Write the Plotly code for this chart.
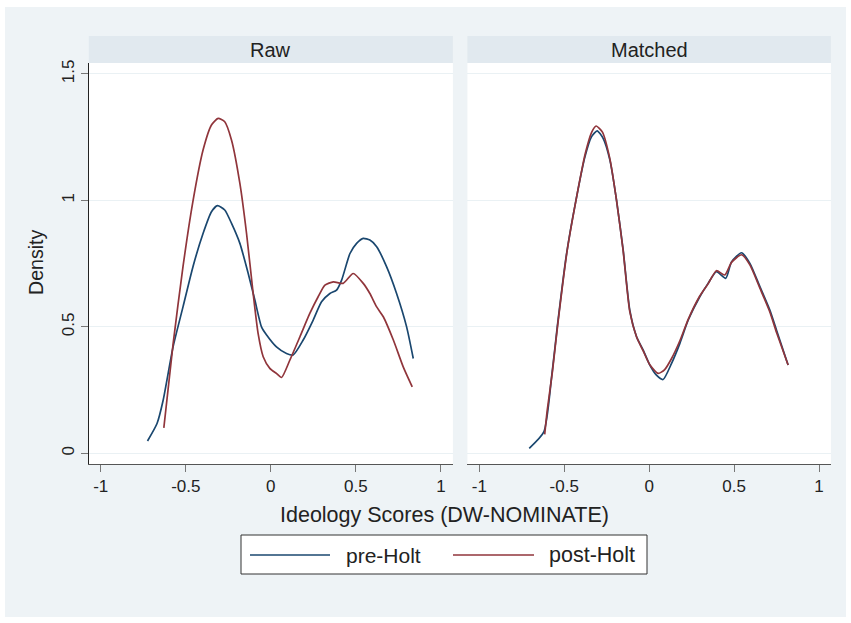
import plotly.graph_objects as go

# ---- data ----
panel_titles = ["Raw", "Matched"]
series_names = ["pre-Holt", "post-Holt"]

pre_raw_x = [-0.725, -0.669, -0.633, -0.575, -0.516, -0.457, -0.398, -0.349, -0.314, -0.271,
             -0.231, -0.182, -0.133, -0.094, -0.055, -0.025, 0.033, 0.092, 0.131, 0.19,
             0.249, 0.298, 0.347, 0.386, 0.416, 0.465, 0.504, 0.543, 0.582, 0.622,
             0.68, 0.739, 0.798, 0.837]
pre_raw_y = [0.049, 0.118, 0.21, 0.42, 0.58, 0.74, 0.87, 0.955, 0.979, 0.962,
             0.909, 0.83, 0.711, 0.606, 0.50, 0.468, 0.421, 0.395, 0.389, 0.448,
             0.527, 0.599, 0.632, 0.645, 0.685, 0.79, 0.83, 0.85, 0.843, 0.817,
             0.738, 0.632, 0.50, 0.375]

post_raw_x = [-0.629, -0.575, -0.516, -0.457, -0.398, -0.349, -0.31, -0.271, -0.231, -0.182,
              -0.143, -0.104, -0.075, -0.045, -0.006, 0.033, 0.063, 0.112, 0.171, 0.229,
              0.278, 0.318, 0.367, 0.425, 0.484, 0.543, 0.582, 0.622, 0.661, 0.72,
              0.778, 0.831]
post_raw_y = [0.101, 0.43, 0.74, 1.0, 1.2, 1.298, 1.324, 1.311, 1.238, 1.067,
              0.87, 0.632, 0.474, 0.382, 0.336, 0.316, 0.300, 0.369, 0.461, 0.553,
              0.619, 0.665, 0.678, 0.672, 0.711, 0.672, 0.632, 0.579, 0.54, 0.448,
              0.342, 0.263]

pre_match_x = [-0.706, -0.62, -0.574, -0.541, -0.486, -0.431, -0.378, -0.339, -0.306, -0.271,
               -0.231, -0.192, -0.153, -0.114, -0.074, -0.035, 0.004, 0.043, 0.082, 0.132,
               0.181, 0.23, 0.298, 0.347, 0.396, 0.451, 0.485, 0.544, 0.593, 0.652,
               0.71, 0.75, 0.818]
pre_match_y = [0.02, 0.085, 0.303, 0.5, 0.79, 1.0, 1.172, 1.252, 1.275, 1.245,
               1.159, 1.0, 0.804, 0.566, 0.461, 0.408, 0.349, 0.309, 0.292, 0.356,
               0.435, 0.527, 0.619, 0.672, 0.718, 0.692, 0.757, 0.793, 0.751, 0.659,
               0.567, 0.487, 0.349]

post_match_x = [-0.615, -0.60, -0.570, -0.538, -0.483, -0.428, -0.376, -0.338, -0.312, -0.275,
                -0.233, -0.192, -0.153, -0.114, -0.074, -0.035, 0.004, 0.053, 0.09, 0.132,
                0.181, 0.23, 0.298, 0.347, 0.396, 0.445, 0.485, 0.544, 0.593, 0.652,
                0.71, 0.75, 0.818]
post_match_y = [0.075, 0.17, 0.32, 0.51, 0.80, 1.01, 1.185, 1.27, 1.294, 1.27,
                1.17, 1.0, 0.80, 0.56, 0.46, 0.405, 0.35, 0.316, 0.33, 0.375,
                0.445, 0.53, 0.622, 0.67, 0.722, 0.705, 0.755, 0.785, 0.745, 0.653,
                0.56, 0.478, 0.349]

x_ticks = [-1, -0.5, 0, 0.5, 1]
x_ticklabels = ["-1", "-0.5", "0", "0.5", "1"]
y_ticks = [0, 0.5, 1, 1.5]
y_ticklabels = ["0", "0.5", "1", "1.5"]

# ---- style ----
W, H = 851, 623
NAVY = "#1a476f"
MAROON = "#90353b"
BG = "#eef3f6"
STRIP = "#e1e9ef"
GRID = "#eaf1f4"
FONT = "Liberation Sans, Arial, sans-serif"
TXT = "#222222"

def px(x):
    return x / W

def py(y):
    return 1 - y / H

xl_dom = [px(88.8), px(452.9)]
xr_dom = [px(467.4), px(830.9)]
y_dom = [py(464), py(63)]
xrange_ = [-1.07, 1.07]
yrange_ = [-0.042, 1.543]

fig = go.Figure()
lw = 1.7
fig.add_trace(go.Scatter(x=pre_raw_x, y=pre_raw_y, mode="lines", name=series_names[0],
                         line=dict(color=NAVY, width=lw, shape="spline", smoothing=0.6),
                         xaxis="x", yaxis="y", showlegend=False))
fig.add_trace(go.Scatter(x=post_raw_x, y=post_raw_y, mode="lines", name=series_names[1],
                         line=dict(color=MAROON, width=lw, shape="spline", smoothing=0.6),
                         xaxis="x", yaxis="y", showlegend=False))
fig.add_trace(go.Scatter(x=pre_match_x, y=pre_match_y, mode="lines", name=series_names[0],
                         line=dict(color=NAVY, width=lw, shape="spline", smoothing=0.6),
                         xaxis="x2", yaxis="y2", showlegend=False))
fig.add_trace(go.Scatter(x=post_match_x, y=post_match_y, mode="lines", name=series_names[1],
                         line=dict(color=MAROON, width=lw, shape="spline", smoothing=0.6),
                         xaxis="x2", yaxis="y2", showlegend=False))

xaxis_common = dict(range=xrange_, tickmode="array", tickvals=x_ticks, ticktext=x_ticklabels,
                    showgrid=False, zeroline=False, showline=True, linecolor="#555555",
                    linewidth=1, ticks="outside", ticklen=7, tickwidth=1, tickcolor="#777777",
                    tickfont=dict(family=FONT, size=17, color=TXT), automargin=False,
                    fixedrange=True)
yaxis_common = dict(range=yrange_, tickmode="array", tickvals=y_ticks, ticktext=y_ticklabels,
                    showgrid=True, gridcolor=GRID, gridwidth=1, zeroline=False,
                    automargin=False, fixedrange=True)

shapes = [
    # graph region background
    dict(type="rect", xref="paper", yref="paper", x0=px(5), x1=px(846), y0=py(617), y1=py(7),
         fillcolor=BG, line=dict(width=0), layer="below"),
    # plot areas
    dict(type="rect", xref="paper", yref="paper", x0=xl_dom[0], x1=xl_dom[1], y0=y_dom[0], y1=y_dom[1],
         fillcolor="white", line=dict(width=0), layer="below"),
    dict(type="rect", xref="paper", yref="paper", x0=xr_dom[0], x1=xr_dom[1], y0=y_dom[0], y1=y_dom[1],
         fillcolor="white", line=dict(width=0), layer="below"),
    # strips
    dict(type="rect", xref="paper", yref="paper", x0=xl_dom[0], x1=xl_dom[1], y0=py(63), y1=py(36),
         fillcolor=STRIP, line=dict(width=0), layer="below"),
    dict(type="rect", xref="paper", yref="paper", x0=xr_dom[0], x1=xr_dom[1], y0=py(63), y1=py(36),
         fillcolor=STRIP, line=dict(width=0), layer="below"),
    # legend box
    dict(type="rect", xref="paper", yref="paper", x0=px(241), x1=px(647), y0=py(574), y1=py(535),
         fillcolor="white", line=dict(color="#333333", width=1), layer="above"),
    dict(type="line", xref="paper", yref="paper", x0=px(250), x1=px(330), y0=py(555), y1=py(555),
         line=dict(color=NAVY, width=lw), layer="above"),
    dict(type="line", xref="paper", yref="paper", x0=px(453), x1=px(534), y0=py(555), y1=py(555),
         line=dict(color=MAROON, width=lw), layer="above"),
]

annotations = [
    dict(text=panel_titles[0], xref="paper", yref="paper", x=(xl_dom[0] + xl_dom[1]) / 2, y=py(49.5),
         xanchor="center", yanchor="middle", showarrow=False, font=dict(family=FONT, size=20, color=TXT)),
    dict(text=panel_titles[1], xref="paper", yref="paper", x=(xr_dom[0] + xr_dom[1]) / 2, y=py(49.5),
         xanchor="center", yanchor="middle", showarrow=False, font=dict(family=FONT, size=20, color=TXT)),
    dict(text="Ideology Scores (DW-NOMINATE)", xref="paper", yref="paper", x=px(444.5), y=py(515),
         xanchor="center", yanchor="middle", showarrow=False, font=dict(family=FONT, size=21.5, color=TXT)),
    dict(text="Density", xref="paper", yref="paper", x=px(36), y=py(262), textangle=-90,
         xanchor="center", yanchor="middle", showarrow=False, font=dict(family=FONT, size=19.6, color=TXT)),
    dict(text=series_names[0], xref="paper", yref="paper", x=px(344), y=py(555),
         xanchor="left", yanchor="middle", showarrow=False, font=dict(family=FONT, size=21, color=TXT)),
    dict(text=series_names[1], xref="paper", yref="paper", x=px(547), y=py(555),
         xanchor="left", yanchor="middle", showarrow=False, font=dict(family=FONT, size=21.5, color=TXT)),
]

fig.update_layout(
    width=W, height=H,
    margin=dict(l=0, r=0, t=0, b=0),
    paper_bgcolor="white",
    plot_bgcolor="rgba(0,0,0,0)",
    showlegend=False,
    xaxis=dict(domain=xl_dom, anchor="y", **xaxis_common),
    xaxis2=dict(domain=xr_dom, anchor="y2", **xaxis_common),
    yaxis=dict(domain=y_dom, anchor="x", showline=True, linecolor="#222222", linewidth=1,
               ticks="outside", ticklen=7, tickwidth=1, tickcolor="#777777", tickangle=-90,
               tickfont=dict(family=FONT, size=17, color=TXT), showticklabels=True, **yaxis_common),
    yaxis2=dict(domain=y_dom, anchor="x2", matches="y", showline=False, ticks="",
                showticklabels=False, **yaxis_common),
    shapes=shapes,
    annotations=annotations,
)

fig.write_html("out.html", config={"displayModeBar": False},
               post_script="document.body.style.margin='0px';document.body.style.padding='0px';")
